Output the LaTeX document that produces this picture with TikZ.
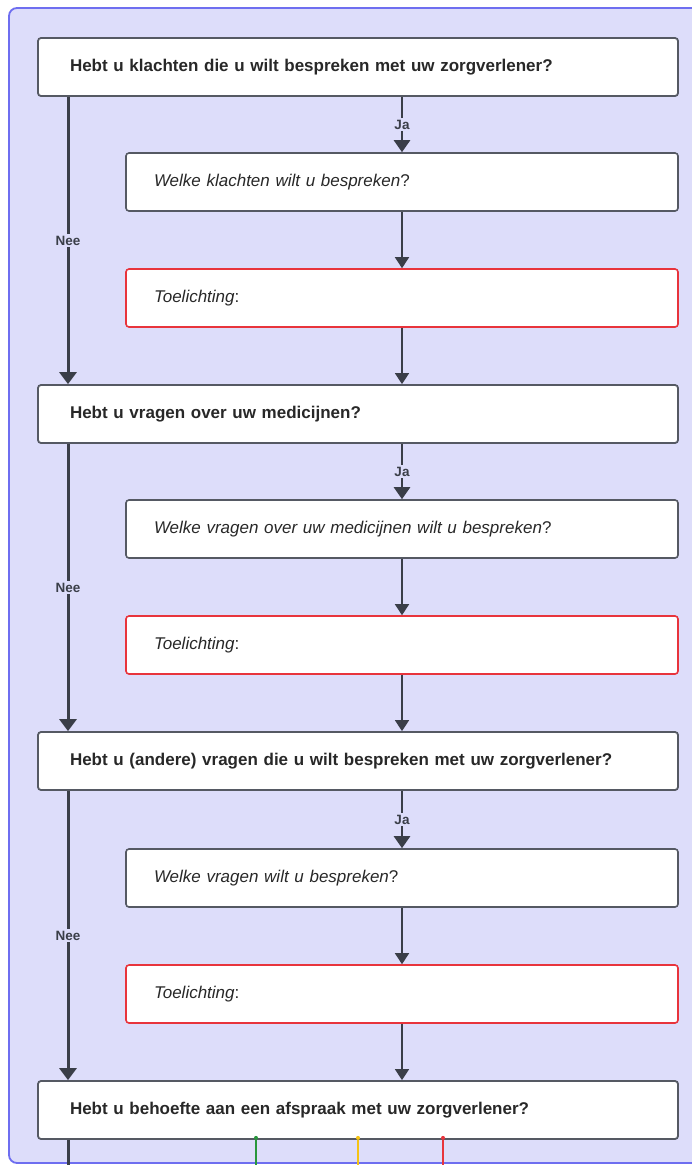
\documentclass[tikz,border=0pt]{standalone}
\usepackage{fontspec}
\setmainfont{Liberation Sans}
\usetikzlibrary{arrows.meta}
\definecolor{panelfill}{RGB}{221,221,250}
\definecolor{panelline}{RGB}{110,110,240}
\definecolor{ink}{RGB}{58,62,72}
\definecolor{boxline}{RGB}{85,89,99}
\definecolor{warn}{RGB}{232,52,60}
\definecolor{txt}{RGB}{40,40,40}
\definecolor{okgreen}{RGB}{40,150,60}
\definecolor{okyellow}{RGB}{245,195,20}
\tikzset{
  question/.style={draw=boxline, line width=1.8pt, fill=white, rounded corners=3pt,
    minimum width=640pt, minimum height=58pt, text width=576pt, inner xsep=32pt,
    align=left, text=txt, font=\fontsize{17}{19}\selectfont\bfseries},
  answer/.style={draw=boxline, line width=1.6pt, fill=white, rounded corners=3pt,
    minimum width=552pt, minimum height=58pt, text width=496pt, inner xsep=28pt,
    align=left, text=txt, font=\fontsize{17}{19}\selectfont},
  note/.style={answer, draw=warn},
  flow/.style={draw=ink, line width=1.8pt, -{Triangle[length=11pt,width=14pt]}},
  yesbranch/.style={draw=ink, line width=2.6pt, -{Triangle[length=12pt,width=16pt]}},
  branch/.style={draw=ink, line width=3pt, -{Triangle[length=12pt,width=17pt]}},
  tag/.style={fill=panelfill, text=ink, inner sep=2pt, font=\fontsize{13.5}{15}\selectfont\bfseries},
  exit/.style={line width=1.5pt},
}
\begin{document}
\begin{tikzpicture}[x=1pt, y=-1pt]
\useasboundingbox (0,0) rectangle (692,1165);
\clip (0,0) rectangle (692,1165);
\fill[white] (0,0) rectangle (692,1165);
% background panel
\draw[panelline, fill=panelfill, line width=1.8pt, rounded corners=8pt] (9,8) rectangle (720,1163);

% questions
\node[question] (q1) at (358,67)   {Hebt u klachten die u wilt bespreken met uw zorgverlener?};
\node[question] (q2) at (358,414)  {Hebt u vragen over uw medicijnen?};
\node[question] (q3) at (358,761)  {Hebt u (andere) vragen die u wilt bespreken met uw zorgverlener?};
\node[question] (q4) at (358,1110) {Hebt u behoefte aan een afspraak met uw zorgverlener?};

% answers
\node[answer] (a1) at (402,182) {\textit{Welke klachten wilt u bespreken}?};
\node[note]   (t1) at (402,298) {\textit{Toelichting}:};
\node[answer] (a2) at (402,529) {\textit{Welke vragen over uw medicijnen wilt u bespreken}?};
\node[note]   (t2) at (402,645) {\textit{Toelichting}:};
\node[answer] (a3) at (402,878) {\textit{Welke vragen wilt u bespreken}?};
\node[note]   (t3) at (402,994) {\textit{Toelichting}:};

% "Ja" branches
\foreach \q/\a in {q1/a1, q2/a2, q3/a3}{
  \draw[yesbranch] (\a.north |- \q.south) -- node[tag]{Ja} (\a.north);
}
% answer -> explanation -> next question
\foreach \a/\t/\n in {a1/t1/q2, a2/t2/q3, a3/t3/q4}{
  \draw[flow] (\a.south) -- (\t.north);
  \draw[flow] (\t.south) -- (\t.south |- \n.north);
}
% "Nee" branches along the left side
\coordinate (e0) at (68,1170);
\foreach \q/\n in {q1/q2, q2/q3, q3/q4}{
  \draw[branch] (e0 |- \q.south) -- node[tag]{Nee} (e0 |- \n.north);
}

% exits below the last question
\coordinate (e1) at (256,1170);
\coordinate (e2) at (358,1170);
\coordinate (e3) at (443,1170);
\draw[ink, line width=3pt] (e0 |- q4.south) -- (e0);
\draw[okgreen, exit] (e1 |- q4.south) -- (e1);
\draw[okyellow, exit] (e2 |- q4.south) -- (e2);
\draw[warn, exit] (e3 |- q4.south) -- (e3);
\fill[okgreen] ([yshift=2pt]e1 |- q4.south) circle (2pt);
\fill[okyellow] ([yshift=2pt]e2 |- q4.south) circle (2pt);
\fill[warn] ([yshift=2pt]e3 |- q4.south) circle (2pt);
\end{tikzpicture}
\end{document}
